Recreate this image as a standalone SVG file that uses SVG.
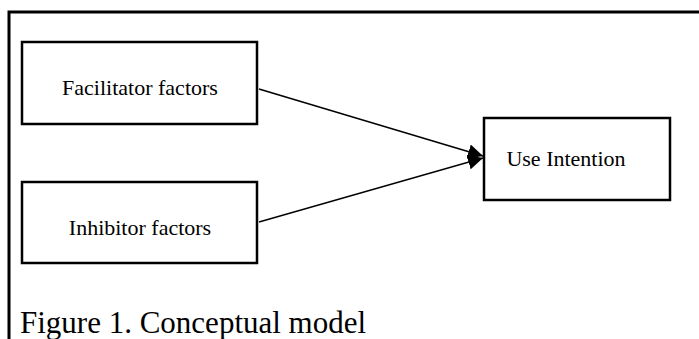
<svg xmlns="http://www.w3.org/2000/svg" width="699" height="339" viewBox="0 0 699 339">
<style>
.box{fill:#fff;stroke:#000;stroke-width:2.5}
.lbl{font-family:"Liberation Serif","Times New Roman",serif;font-size:22px;fill:#000;text-anchor:middle}
.conn{stroke:#000;stroke-width:1.5;fill:none}
</style>
<defs>
<marker id="arr" viewBox="0 0 15 15" refX="15" refY="7.5" markerWidth="15" markerHeight="15" markerUnits="userSpaceOnUse" orient="auto">
<path d="M0,0 L15,7.5 L0,15 Z" fill="#000"/>
</marker>
</defs>
<rect width="699" height="339" fill="#fff"/>
<g id="frame">
<path d="M9,339 V12 H699" fill="none" stroke="#000" stroke-width="3"/>
</g>
<g id="facilitator">
<rect class="box" x="22" y="42" width="235" height="82"/>
<text class="lbl" x="140" y="95">Facilitator factors</text>
</g>
<g id="inhibitor">
<rect class="box" x="22" y="182" width="235" height="81"/>
<text class="lbl" x="140" y="235">Inhibitor factors</text>
</g>
<g id="use-intention">
<rect class="box" x="484" y="118" width="186" height="82"/>
<text class="lbl" x="566" y="166">Use Intention</text>
</g>
<g id="connectors">
<line class="conn" x1="259" y1="89" x2="483" y2="156" marker-end="url(#arr)"/>
<line class="conn" x1="259" y1="222" x2="483" y2="158" marker-end="url(#arr)"/>
</g>
<text x="20" y="333" font-family="Liberation Serif,'Times New Roman',serif" font-size="31" fill="#000">Figure 1. Conceptual model</text>
</svg>
